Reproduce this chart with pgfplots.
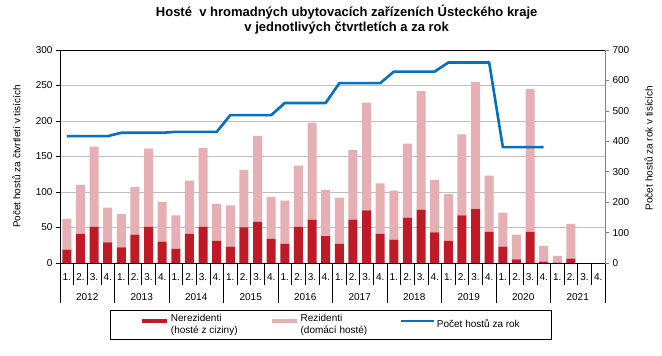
\documentclass[border=0pt]{standalone}
\usepackage{fontspec}
\setmainfont{Liberation Sans}
\usepackage{pgfplots}
\pgfplotsset{compat=1.18}
\usepackage{pgfplotstable}

\definecolor{nerez}{RGB}{192,26,38}
\definecolor{rez}{RGB}{230,175,180}
\definecolor{lineblue}{RGB}{0,112,192}
\definecolor{gridgray}{RGB}{190,190,190}

\pgfplotstableread{
x d r
0 19 43
1 41 69
2 51 113
3 29 49
4 22 47
5 40 67
6 51 110
7 30 56
8 20 47
9 41 75
10 51 111
11 31 52
12 23 58
13 50 81
14 58 121
15 34 59
16 27 61
17 51 86
18 61 136
19 38 65
20 27 65
21 61 98
22 74 152
23 41 71
24 33 69
25 64 104
26 75 167
27 43 74
28 31 66
29 67 114
30 76 179
31 44 79
32 23 48
33 5 35
34 44 201
35 2 22
36 0.5 9.5
37 6 49
}\bars

\pgfplotstableread{
x y
0 417
1 417
2 417
3 417
4 428
5 428
6 428
7 428
8 431
9 431
10 431
11 431
12 486
13 486
14 486
15 486
16 526
17 526
18 526
19 526
20 591
21 591
22 591
23 591
24 629
25 629
26 629
27 629
28 659
29 659
30 659
31 659
32 381
33 381
34 381
35 381
}\annual

\begin{document}
\begin{tikzpicture}
\useasboundingbox (-60pt,-93pt) rectangle (602pt,263pt);
\begin{axis}[
  scale only axis, width=545pt, height=213pt,
  xmin=-0.5, xmax=39.5, ymin=0, ymax=300,
  ybar stacked, bar width=9pt,
  ytick={0,50,...,300},
  ymajorgrids, grid style={gridgray, line width=0.6pt},
  xtick={0,...,39},
  xticklabels={1.,2.,3.,4.,1.,2.,3.,4.,1.,2.,3.,4.,1.,2.,3.,4.,1.,2.,3.,4.,1.,2.,3.,4.,1.,2.,3.,4.,1.,2.,3.,4.,1.,2.,3.,4.,1.,2.,3.,4.},
  xtick pos=left, ytick pos=left,
  tick align=outside,
  major tick length=4pt, minor tick length=22pt,
  major x tick style={draw=none},
  minor xtick={-0.5,0.5,...,39.5},
  minor x tick style={black, line width=0.6pt},
  tick style={black, line width=0.6pt},
  axis line style={black, line width=0.8pt},
  /pgf/number format/assume math mode=true,
  tick label style={font=\fontsize{10}{12}\selectfont},
  xticklabel style={anchor=center, yshift=-9.7pt},
  ylabel={Počet hostů za čtvrtletí v tisících},
  every axis y label/.style={at={(axis description cs:-0.066,0.5)}, rotate=90, anchor=south, font=\fontsize{10}{12}\selectfont},
  title={Hosté~ v hromadných ubytovacích zařízeních Ústeckého kraje\\v jednotlivých čtvrtletích a za rok},
  title style={at={(axis description cs:0.526,1)}, anchor=center, yshift=24.5pt, align=center, font=\bfseries\fontsize{13}{15}\selectfont},
]
\addplot[fill=nerez, draw=none] table[x=x, y=d] {\bars};
\addplot[fill=rez, draw=none] table[x=x, y=r] {\bars};
\end{axis}
\begin{axis}[
  scale only axis, width=545pt, height=213pt,
  xmin=-0.5, xmax=39.5, ymin=0, ymax=700,
  ytick={0,100,...,700},
  axis y line*=right, axis x line*=bottom,
  x axis line style={-, black, line width=0.8pt},
  y axis line style={-, gray, line width=0.8pt},
  xtick={1.5,5.5,...,37.5},
  xticklabels={2012,2013,2014,2015,2016,2017,2018,2019,2020,2021},
  major x tick style={draw=none},
  minor xtick={-0.5,3.5,...,39.5},
  tick align=outside,
  major tick length=4pt, minor tick length=40pt,
  minor x tick style={black, line width=0.6pt},
  ytick style={gray, line width=0.6pt},
  /pgf/number format/assume math mode=true,
  tick label style={font=\fontsize{10}{12}\selectfont},
  xticklabel style={anchor=center, yshift=-29.7pt},
  ylabel={Počet hostů za rok v tisících},
  every axis y label/.style={at={(axis description cs:1.066,0.54)}, rotate=90, anchor=north, font=\fontsize{10}{12}\selectfont},
  legend columns=3,
  legend cell align=left,
  legend style={at={(axis description cs:0.497,0)}, anchor=north, yshift=-47pt,
    draw=black, line width=0.6pt, font=\fontsize{10}{12}\selectfont,
    cells={align=left},
    /tikz/every even column/.append style={column sep=30pt},
    inner xsep=30pt, inner ysep=2pt},
]
\addlegendimage{legend image code/.code={\draw[nerez, line width=4pt] (0pt,0.35em)--(25pt,0.35em);}}
\addlegendentry{Nerezidenti\\(hosté z ciziny)}
\addlegendimage{legend image code/.code={\draw[rez, line width=4pt] (0pt,0.35em)--(25pt,0.35em);}}
\addlegendentry{Rezidenti\\(domácí hosté)}
\addplot[lineblue, line width=2.6pt, line join=round, mark=none,
  legend image code/.code={\draw[lineblue, line width=2.6pt] (0pt,0.35em)--(33pt,0.35em);}] table[x=x, y=y] {\annual};
\addlegendentry{Počet hostů za rok}
\end{axis}
\end{tikzpicture}
\end{document}
